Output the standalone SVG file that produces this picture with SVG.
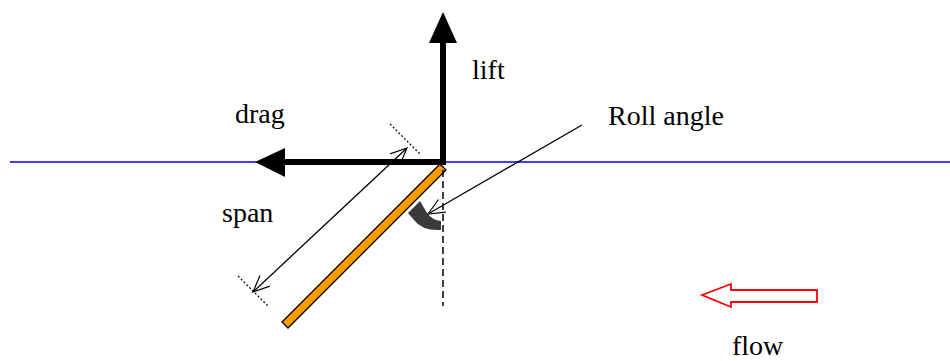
<svg xmlns="http://www.w3.org/2000/svg" width="950" height="361" viewBox="0 0 950 361">
<style>
.lbl{font-family:'Liberation Serif','Times New Roman',serif;font-size:28px;fill:#000}
.thin{stroke:#000;stroke-width:1.3;fill:none}
.force{stroke:#000;stroke-width:6;fill:none}
</style>
<defs>
<marker id="open" markerWidth="20" markerHeight="20" refX="0" refY="0" viewBox="-20 -10 22 20" orient="auto" markerUnits="userSpaceOnUse">
<path d="M-18,-8 L0,0 L-18,8" fill="none" stroke="#000" stroke-width="1.3"/>
</marker>
</defs>
<rect width="950" height="361" fill="#fff"/>
<g id="flowline"><line x1="10" y1="162" x2="950" y2="162" stroke="#0000ff" stroke-width="1.5"/></g>
<g id="wing"><polygon points="446,170 440,164 282,322 288,328" fill="#ff9900" stroke="#000" stroke-width="1.3"/></g>
<g id="connectors">
<line x1="443" y1="170" x2="443" y2="306" stroke="#000" stroke-width="1.5" stroke-dasharray="7,4"/>
<line x1="390" y1="124" x2="421" y2="155" stroke="#000" stroke-width="1.2" stroke-dasharray="2,2"/>
<line x1="238" y1="276" x2="269" y2="307" stroke="#000" stroke-width="1.2" stroke-dasharray="2,2"/>
<line x1="330" y1="220" x2="407" y2="148" class="thin" marker-end="url(#open)"/>
<line x1="330" y1="220" x2="253" y2="292" class="thin" marker-end="url(#open)"/>
<line x1="582" y1="125" x2="428" y2="214" class="thin" marker-end="url(#open)"/>
</g>
<g id="lift"><line x1="443" y1="165" x2="443" y2="40" class="force"/><polygon points="443,12 429,43 457,43" fill="#000"/><text class="lbl" x="472" y="79">lift</text></g>
<g id="drag"><line x1="446" y1="162" x2="282" y2="162" class="force"/><polygon points="255,162 285,148 285,177" fill="#000"/><text class="lbl" x="235" y="123">drag</text></g>
<g id="span"><text class="lbl" x="222" y="222">span</text></g>
<g id="roll"><path d="M408,213 L420,201 L427,213 Q432,220 441,221 L441,230 Q422,231 414,220 Z" fill="#3a3a3a"/><text class="lbl" x="608" y="125">Roll angle</text></g>
<g id="flow"><polygon points="702,295 731,284 731,290 817,290 817,302 731,302 731,307" fill="#fff" stroke="#ff0000" stroke-width="1.8"/><text class="lbl" x="732" y="355">flow</text></g>
</svg>
